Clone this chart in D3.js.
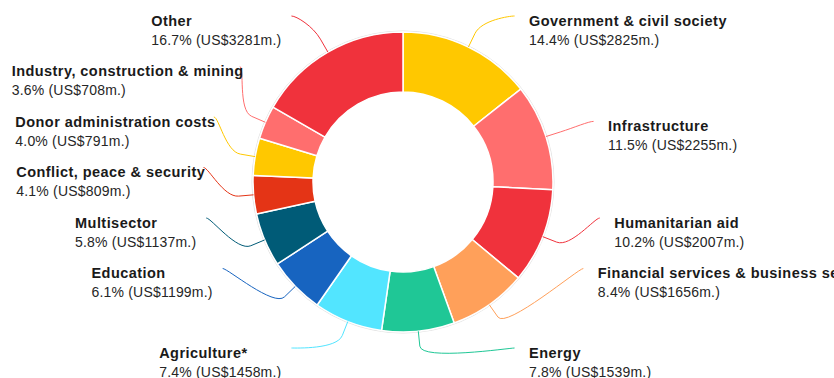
<!DOCTYPE html>
<html>
<head>
<meta charset="utf-8">
<script src="https://cdn.jsdelivr.net/npm/d3@7"></script>
<style>
  html, body { margin: 0; padding: 0; background: #fff; }
  svg { display: block; font-family: "Liberation Sans", Arial, sans-serif; }
</style>
</head>
<body>
<svg id="chart" width="834" height="378"></svg>
<script>
// ---- data ----
const categories = [
  "Government & civil society",
  "Infrastructure",
  "Humanitarian aid",
  "Financial services & business services",
  "Energy",
  "Agriculture*",
  "Education",
  "Multisector",
  "Conflict, peace & security",
  "Donor administration costs",
  "Industry, construction & mining",
  "Other"
];
const values = [2825, 2255, 2007, 1656, 1539, 1458, 1199, 1137, 809, 791, 708, 3281];
const colors = [
  "#ffc800", "#ff6e6e", "#f0323c", "#ffa05a", "#1fc796", "#52e5ff",
  "#1764c0", "#005b77", "#e43416", "#ffc800", "#ff6e6e", "#f0323c"
];

// ---- layout ----
const W = 834, H = 378;
const cx = 403, cy = 182;
const outerR = 150, innerR = 90;
const labelDist = 50;
const labelR = outerR + labelDist;
const plotTop = 16, plotBottom = 348;
const slotH = 50.5;

const svg = d3.select("#chart");
const total = d3.sum(values);
const data = categories.map((c, i) => ({ name: c, value: values[i], color: colors[i], i }));

const pie = d3.pie().value(d => d.value).sort(null).startAngle(0).endAngle(2 * Math.PI);
const arcs = pie(data);
const arc = d3.arc().innerRadius(innerR).outerRadius(outerR);

const g = svg.append("g").attr("transform", `translate(${cx},${cy})`);

// faint outer ring
g.append("circle").attr("r", outerR + 1).attr("fill", "none")
  .attr("stroke", "#e2e2e2").attr("stroke-width", 1);

g.selectAll("path.slice").data(arcs).join("path")
  .attr("class", "slice")
  .attr("d", arc)
  .attr("fill", d => d.data.color)
  .attr("stroke", "#fff")
  .attr("stroke-width", 1.5)
  .attr("stroke-linejoin", "round");

// ---- label placement (slot based) ----
const polar = (r, a) => [cx + r * Math.sin(a), cy - r * Math.cos(a)];
arcs.forEach(d => {
  d.mid = (d.startAngle + d.endAngle) / 2;
  d.half = d.mid < Math.PI ? 0 : 1; // 0 right, 1 left
  d.naturalY = cy - labelR * Math.cos(d.mid);
});

[0, 1].forEach(half => {
  const pts = arcs.filter(d => d.half === half).sort((a, b) => a.naturalY - b.naturalY);
  const slots = [];
  for (let p = plotTop; p <= plotBottom; p += slotH) slots.push(p);
  const slotsLength = slots.length, length = pts.length;
  const used = [];
  pts.forEach((pt, j) => {
    let closest = 1e9, slotIndex = 0;
    for (let s = 0; s < slotsLength; s++) {
      if (slots[s] === null) continue;
      const dist = Math.abs(slots[s] - pt.naturalY);
      if (dist < closest) { closest = dist; slotIndex = s; }
    }
    if (slotIndex < j && slots[j] !== null) {
      slotIndex = j;
    } else if (slotsLength < length - j + slotIndex) {
      slotIndex = slotsLength - length + j;
      while (slots[slotIndex] === null) slotIndex++;
    } else {
      while (slots[slotIndex] === null) slotIndex++;
    }
    used.push({ i: slotIndex, y: slots[slotIndex], pt });
    slots[slotIndex] = null;
  });
  used.sort((a, b) => a.i - b.i);
  used.forEach(u => {
    let y = u.y;
    const pt = u.pt;
    if ((pt.naturalY > y && slots[u.i + 1] !== null) ||
        (pt.naturalY < y && slots[u.i - 1] !== null)) {
      y = Math.min(Math.max(plotTop, pt.naturalY), plotBottom);
    }
    const dy = Math.max(-labelR, Math.min(labelR, y - cy));
    const dx = Math.sqrt(labelR * labelR - dy * dy);
    pt.ax = half === 0 ? cx + dx : cx - dx;
    pt.ay = y;
  });
});

// ---- connectors ----
svg.append("g").selectAll("path").data(arcs).join("path")
  .attr("fill", "none")
  .attr("stroke", d => d.data.color)
  .attr("stroke-width", 1)
  .attr("d", d => {
    const P = polar(outerR, d.mid);
    const B = polar(outerR + 15, d.mid);
    const C2 = polar(outerR + 30, d.mid);
    const c1x = d.ax + (d.half === 0 ? -5 : 5);
    return `M${d.ax},${d.ay}C${c1x},${d.ay} ${C2[0]},${C2[1]} ${B[0]},${B[1]}L${P[0]},${P[1]}`;
  });

// ---- labels ----
const NAME_SIZE = 14.5, NAME_LS = 0.45;
const VAL_SIZE = 14, VAL_LS = 0.2;
const measure = (txt, weight, size, ls) => {
  const t = svg.append("text").attr("font-weight", weight).attr("font-size", size)
    .attr("letter-spacing", ls).text(txt);
  const w = t.node().getComputedTextLength();
  t.remove();
  return w;
};
const fmtVal = d => `${(d.data.value / total * 100).toFixed(1)}% (US$${d.data.value}m.)`;

const labels = svg.append("g");
arcs.forEach(d => {
  const nameW = measure(d.data.name, "bold", NAME_SIZE, 0);
  const valW = measure(fmtVal(d), "normal", VAL_SIZE, VAL_LS);
  const boxW = Math.max(nameW, valW);
  const x = d.half === 0 ? d.ax + 14.5 : d.ax - 10 - boxW;
  labels.append("text")
    .attr("x", x).attr("y", d.ay + 9.5)
    .attr("font-weight", "bold").attr("font-size", NAME_SIZE)
    .attr("letter-spacing", NAME_LS)
    .attr("fill", "#1a1a1a")
    .text(d.data.name);
  labels.append("text")
    .attr("x", x).attr("y", d.ay + 28.5)
    .attr("font-size", VAL_SIZE)
    .attr("letter-spacing", VAL_LS)
    .attr("fill", "#262626")
    .text(fmtVal(d));
});
</script>
</body>
</html>
